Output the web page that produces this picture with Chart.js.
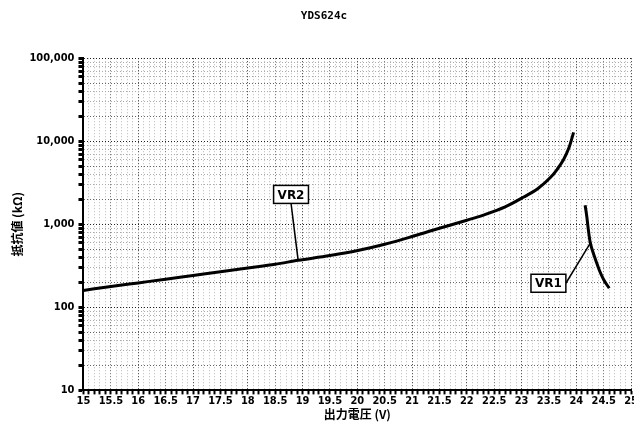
<!DOCTYPE html>
<html>
<head>
<meta charset="utf-8">
<script src="https://cdn.jsdelivr.net/npm/chart.js@4/dist/chart.umd.min.js"></script>
<style>
  body { margin: 0; background: #fff; overflow: hidden; }
  #wrap { width: 638px; height: 430px; }
</style>
</head>
<body>
<div id="wrap"><canvas id="myChart"></canvas></div>
<script>
// values
let vr2Volt = [15, 15.5, 16, 16.5, 17, 17.5, 18, 18.5, 18.92, 19.5, 20.03, 20.5, 20.95, 21.3, 21.69, 22.0, 22.29, 22.7, 23.03, 23.3, 23.53, 23.65, 23.77, 23.87, 23.95]
let vr2Ohm = [160, 178, 197, 218, 242, 268, 298, 331, 368, 420, 486, 575, 696, 820, 973, 1120, 1283, 1620, 2115, 2700, 3680, 4600, 6070, 8500, 12800]
let vr1Volt = [24.16, 24.19, 24.22, 24.25, 24.3, 24.36, 24.42, 24.5, 24.6]
let vr1Ohm = [1700, 1250, 850, 620, 470, 360, 280, 215, 170]
let xTickLabels = ['15', '15.5', '16', '16.5', '17', '17.5', '18', '18.5', '19', '19.5', '20', '20.5', '21', '21.5', '22', '22.5', '23', '23.5', '24', '24.5', '25']
let yTickLabels = { 10: '10', 100: '100', 1000: '1,000', 10000: '10,000', 100000: '100,000' }
let notes = [
    { text: 'VR2', x: 18.79, y: 2290, px: 18.92, py: 368 },
    { text: 'VR1', x: 23.49, y: 195, px: 24.26, py: 600 }
]

let tickFont = { family: "'Liberation Sans Narrow', 'DejaVu Sans Condensed', sans-serif", size: 11, weight: 'bold' }
let cjkFont = { family: "'Noto Sans CJK JP', sans-serif", size: 12, weight: 'bold' }

function toPoints(xs, ys) {
    let pts = []
    xs.forEach((x, i) => pts.push({ x: x, y: ys[i] }))
    return pts
}

function isWhole(v, step) {
    let r = Math.abs(v / step - Math.round(v / step))
    return r < 1e-6
}

// callout boxes with a pointer line
let callouts = {
    id: 'callouts',
    afterDatasetsDraw(chart) {
        let ctx = chart.ctx
        let xs = chart.scales.x, ys = chart.scales.y
        ctx.save()
        ctx.font = 'bold 12px "DejaVu Sans", sans-serif'
        notes.forEach(n => {
            let cx = xs.getPixelForValue(n.x), cy = ys.getPixelForValue(n.y)
            let px = xs.getPixelForValue(n.px), py = ys.getPixelForValue(n.py)
            let w = ctx.measureText(n.text).width + 8, h = 18
            ctx.strokeStyle = '#000'
            ctx.lineWidth = 1.5
            ctx.beginPath()
            if (n.px > n.x + 0.5) {
                ctx.moveTo(cx + w / 2, cy)
            } else {
                ctx.moveTo(cx, cy + h / 2)
            }
            ctx.lineTo(px, py)
            ctx.stroke()
            ctx.fillStyle = '#fff'
            ctx.fillRect(cx - w / 2, cy - h / 2, w, h)
            ctx.strokeRect(cx - w / 2, cy - h / 2, w, h)
            ctx.fillStyle = '#000'
            ctx.textAlign = 'center'
            ctx.textBaseline = 'middle'
            ctx.fillText(n.text, cx, cy + 1)
        })
        ctx.restore()
    }
}

let myChart = new Chart('myChart', {
    type: 'scatter',
    data: {
        datasets: [{
            label: 'VR2',
            data: toPoints(vr2Volt, vr2Ohm),
            showLine: true,
            borderColor: '#000',
            borderWidth: 3,
            pointRadius: 0,
            cubicInterpolationMode: 'monotone',
            fill: false
        }, {
            label: 'VR1',
            data: toPoints(vr1Volt, vr1Ohm),
            showLine: true,
            borderColor: '#000',
            borderWidth: 3,
            pointRadius: 0,
            cubicInterpolationMode: 'monotone',
            fill: false
        }]
    },
    options: {
        responsive: true,
        maintainAspectRatio: false,
        animation: false,
        layout: { padding: { top: 4, right: 0, left: 10, bottom: 8 } },
        plugins: {
            legend: { display: false },
            tooltip: { enabled: false },
            title: {
                display: true,
                text: 'YDS624c',
                color: '#000',
                font: { family: "'DejaVu Sans Mono', monospace", size: 11, weight: 'bold' },
                padding: { top: 6, bottom: 35 }
            }
        },
        scales: {
            x: {
                type: 'linear',
                min: 15,
                max: 25,
                ticks: {
                    stepSize: 0.1,
                    autoSkip: false,
                    maxRotation: 0,
                    color: '#000',
                    font: tickFont,
                    padding: 0,
                    callback: v => {
                        if (!isWhole(v, 0.5)) return ''
                        return xTickLabels[Math.round((v - 15) * 2)]
                    }
                },
                grid: {
                    color: c => {
                        let v = c.tick ? c.tick.value : 0
                        if (isWhole(v, 1)) return '#333'
                        if (isWhole(v, 0.5)) return '#666'
                        return '#aaa'
                    },
                    lineWidth: c => (c.tick && isWhole(c.tick.value, 0.5)) ? 1 : 0.8,
                    tickLength: 4,
                    tickColor: '#000',
                    tickWidth: 2
                },
                border: { color: '#000', width: 2, dash: [1, 2] },
                title: {
                    display: true,
                    text: '出力電圧 (V)',
                    color: '#000',
                    font: cjkFont,
                    padding: { top: 0, bottom: 0 }
                }
            },
            y: {
                type: 'logarithmic',
                min: 10,
                max: 100000,
                afterBuildTicks: scale => {
                    let t = []
                    for (let d = 10; d < 100000; d *= 10) {
                        for (let k = 1; k < 10; k++) t.push({ value: d * k })
                    }
                    t.push({ value: 100000 })
                    scale.ticks = t
                },
                ticks: {
                    autoSkip: false,
                    color: '#000',
                    font: tickFont,
                    padding: 4,
                    callback: v => yTickLabels[v] || ''
                },
                grid: {
                    color: c => {
                        let v = c.tick ? c.tick.value : 0
                        let m = v / Math.pow(10, Math.floor(Math.log10(v) + 1e-9))
                        if (Math.abs(m - 1) < 1e-6) return '#222'
                        if (Math.abs(m - 5) < 1e-6 || Math.abs(m - 2) < 1e-6) return '#666'
                        return '#aaa'
                    },
                    lineWidth: 1,
                    tickLength: 5,
                    tickColor: '#000',
                    tickWidth: 3
                },
                border: { color: '#000', width: 2, dash: [1, 2] },
                title: {
                    display: true,
                    text: '抵抗値 (kΩ)',
                    color: '#000',
                    font: cjkFont,
                    padding: { top: 0, bottom: 1 }
                }
            }
        }
    },
    plugins: [callouts]
})
</script>
</body>
</html>
